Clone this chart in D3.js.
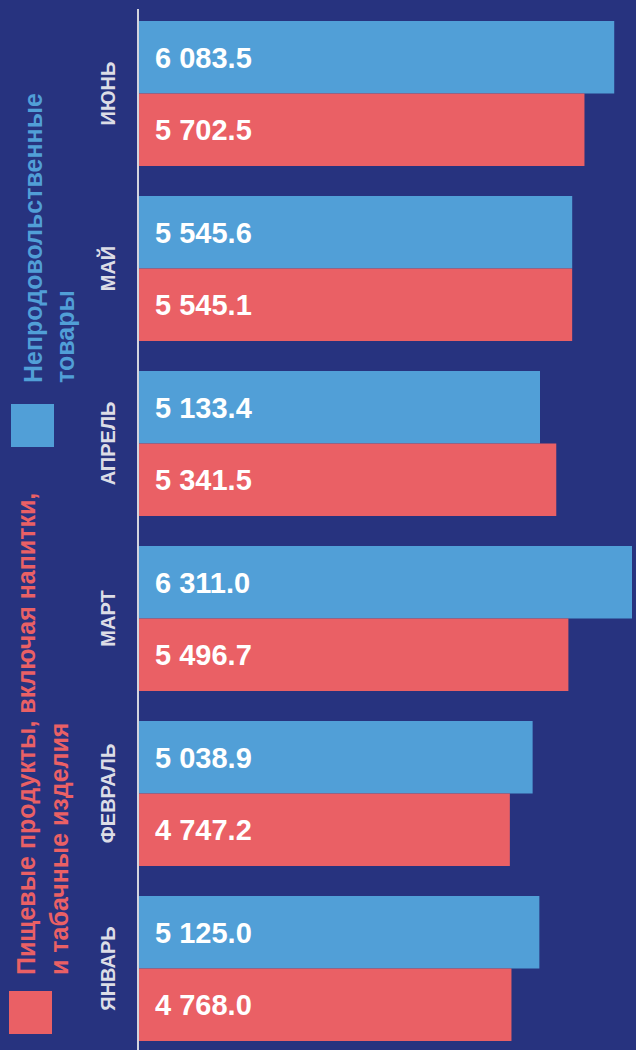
<!DOCTYPE html>
<html>
  <head>
    <meta charset="utf-8" />
    <title>Продажи по месяцам</title>
    <style>
      body,
      html {
        margin: 0;
        padding: 0;
        background: #27337f;
      }
      svg {
        display: block;
        font-family: 'Liberation Sans', Arial, sans-serif;
      }
    </style>
  </head>
  <body>
    <svg id="svg" width="636" height="1050"></svg>
    <script src="https://cdn.jsdelivr.net/npm/d3@7"></script>
    <script>
      const width = 636;
      const height = 1050;

      // top to bottom, as drawn
      const months = ['ИЮНЬ', 'МАЙ', 'АПРЕЛЬ', 'МАРТ', 'ФЕВРАЛЬ', 'ЯНВАРЬ'];
      const nonFood = [6083.5, 5545.6, 5133.4, 6311.0, 5038.9, 5125.0];
      const food = [5702.5, 5545.1, 5341.5, 5496.7, 4747.2, 4768.0];
      const seriesKeys = ['nonFood', 'food'];
      const seriesColors = { nonFood: '#519fd7', food: '#ea6065' };
      const legendLines = {
        nonFood: ['Непродовольственные', 'товары'],
        food: ['Пищевые продукты, включая напитки,', 'и табачные изделия'],
      };

      const rows = months.map((m, i) => ({
        month: m,
        nonFood: nonFood[i],
        food: food[i],
      }));

      const fmt = (v) => d3.format(',.1f')(v).replace(/,/g, ' ');

      const svg = d3.select('#svg');
      svg.append('rect').attr('width', width).attr('height', height).attr('fill', '#27337f');

      const yScale = d3.scaleBand().domain(months).range([21, 1041]).paddingInner(30 / 175);
      const ySeries = d3.scaleBand().domain(seriesKeys).range([0, yScale.bandwidth()]);
      const xScale = d3.scaleLinear().domain([0, 6311]).range([139, 632]);

      const groups = svg
        .selectAll('g.month')
        .data(rows)
        .enter()
        .append('g')
        .attr('class', 'month')
        .attr('transform', (d) => `translate(0, ${yScale(d.month)})`);

      groups
        .selectAll('rect')
        .data((d) => seriesKeys.map((k) => ({ key: k, value: d[k] })))
        .enter()
        .append('rect')
        .attr('x', xScale(0))
        .attr('y', (d) => ySeries(d.key))
        .attr('width', (d) => xScale(d.value) - xScale(0))
        .attr('height', ySeries.bandwidth())
        .attr('fill', (d) => seriesColors[d.key]);

      groups
        .selectAll('text.value')
        .data((d) => seriesKeys.map((k) => ({ key: k, value: d[k] })))
        .enter()
        .append('text')
        .attr('class', 'value')
        .attr('x', 155)
        .attr('y', (d) => ySeries(d.key) + ySeries.bandwidth() / 2)
        .attr('dy', '0.36em')
        .attr('fill', '#fff')
        .attr('font-size', 29)
        .attr('font-weight', 'bold')
        .text((d) => fmt(d.value));

      // month labels, rotated
      groups
        .append('text')
        .attr('transform', `translate(115, ${yScale.bandwidth() / 2}) rotate(-90)`)
        .attr('text-anchor', 'middle')
        .attr('fill', '#dcdde6')
        .attr('font-size', 20)
        .attr('font-weight', 'bold')
        .text((d) => d.month);

      // axis line
      svg
        .append('line')
        .attr('x1', 138)
        .attr('x2', 138)
        .attr('y1', 9)
        .attr('y2', height)
        .attr('stroke', '#d3d4de')
        .attr('stroke-width', 2);

      // legend
      const legend = [
        { key: 'nonFood', box: [11, 404], base: [42, 74], start: 383 },
        { key: 'food', box: [9, 991], base: [35, 68], start: 975 },
      ];
      legend.forEach((l) => {
        svg
          .append('rect')
          .attr('x', l.box[0])
          .attr('y', l.box[1])
          .attr('width', 43)
          .attr('height', 43)
          .attr('fill', seriesColors[l.key]);
        legendLines[l.key].forEach((line, i) => {
          svg
            .append('text')
            .attr('transform', `translate(${l.base[i]}, ${l.start}) rotate(-90)`)
            .attr('fill', seriesColors[l.key])
            .attr('font-size', 25)
            .attr('font-weight', 'bold')
            .text(line);
        });
      });
    </script>
  </body>
</html>
